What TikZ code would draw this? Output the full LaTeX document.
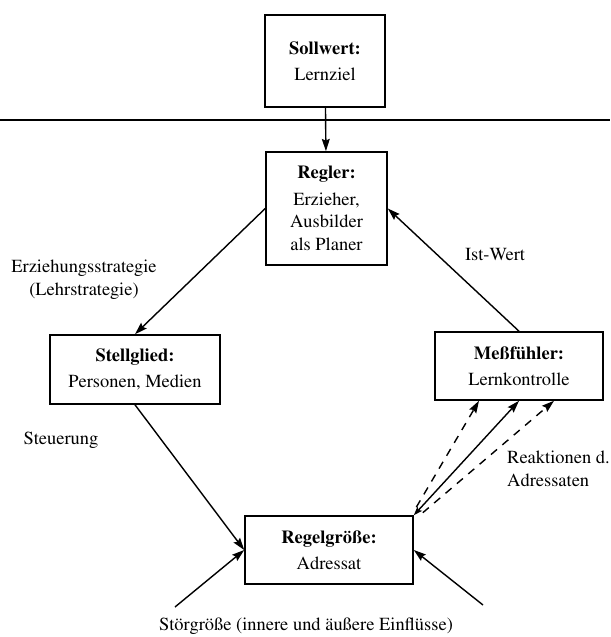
\documentclass[tikz,border=0pt]{standalone}
\usepackage[T1]{fontenc}
\usepackage{mathptmx}
\usepackage{tikz}
\usetikzlibrary{arrows.meta, calc}

\begin{document}
\begin{tikzpicture}[
  box/.style={draw, line width=0.9pt, minimum width=3.36cm, minimum height=1.36cm, align=center, inner sep=2pt, font=\fontsize{10.5}{13}\selectfont},
  lbl/.style={align=center, font=\fontsize{10.5}{13}\selectfont},
  arr/.style={-{Stealth[length=7pt, width=4.5pt, inset=1pt]}, line width=0.8pt},
  darr/.style={arr, dash pattern=on 4.5pt off 4pt},
]
\useasboundingbox (0,0) rectangle (12.2,-12.74);

% Sollwert above the line
\node[box, minimum width=2.4cm, minimum height=1.84cm] (soll) at (6.5,-1.22) {\textbf{Sollwert:}\\[2pt] Lernziel};
\coordinate (linel) at (0,-2.4);
\coordinate (liner) at (12.2,-2.4);
\draw[line width=0.8pt] (linel) -- (liner);

% Loop
\node[box, minimum width=2.42cm, minimum height=2.26cm] (regler) at (6.53,-4.17) {\textbf{Regler:}\\[2pt] Erzieher,\\ Ausbilder\\ als Planer};
\node[box, minimum width=3.4cm, minimum height=1.38cm] (stell) at (2.7,-7.39) {\textbf{Stellglied:}\\[2pt] Personen, Medien};
\node[box] (mess) at (10.38,-7.32) {\textbf{Me\ss{}f\"uhler:}\\[2pt] Lernkontrolle};
\node[box] (regel) at (6.58,-11.0) {\textbf{Regelgr\"o\ss{}e:}\\[2pt] Adressat};

% Labels
\node[lbl] (strat) at (1.68,-5.6) {Erziehungsstrategie\\ (Lehrstrategie)};
\node[lbl] (ist) at (9.9,-5.1) {Ist-Wert};
\node[lbl] (steu) at (1.22,-8.8) {Steuerung};
\node[lbl, align=left, anchor=west] (reak) at (10.02,-9.38) {Reaktionen d.\\ Adressaten};
\node[lbl] (stoer) at (6.12,-12.52) {St\"orgr\"o\ss{}e (innere und \"au\ss{}ere Einfl\"usse)};

% Disturbances
\coordinate (stl) at (3.5,-12.14);
\coordinate (str) at (9.66,-12.1);

% Arrows
\draw[arr] (soll) -- (regler);
\draw[arr] (regler.west) -- (stell.north);
\draw[arr] (stell.south) -- (regel.west);
\draw[arr] (mess.north) -- (regler.east);
\draw[arr] (stl) -- (regel.west);
\draw[arr] (str) -- (regel.east);
\draw[arr, {Stealth[length=5pt, width=3.5pt, inset=1pt]}-{Stealth[length=7pt, width=4.5pt, inset=1pt]}] (regel.north east) -- (mess.south);
\draw[darr] ($(regel.north east)+(0.05,0.16)$) -- ($(mess.south)+(-0.8,0)$);
\draw[darr] ($(regel.north east)+(0.18,0.05)$) -- ($(mess.south)+(0.7,0)$);

\end{tikzpicture}
\end{document}
